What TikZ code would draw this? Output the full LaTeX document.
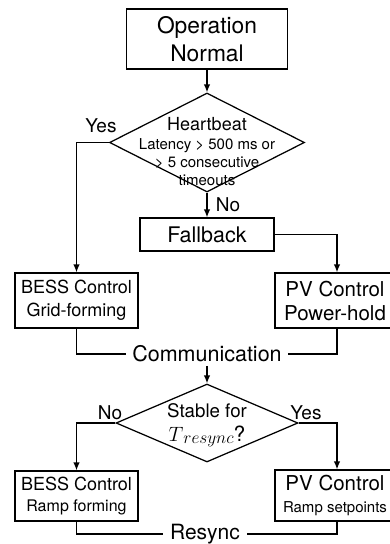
\documentclass[tikz,border=0pt]{standalone}
\usepackage{fontspec}
\setmainfont{TeX Gyre Heros}
\usetikzlibrary{shapes.geometric,arrows.meta}

\newcommand{\fsz}[2]{\fontsize{#1}{#2}\selectfont}

\begin{document}
\begin{tikzpicture}[x=1pt,y=-1pt,>={Latex[length=8pt,width=6.5pt]},line width=1.25pt,
  box/.style={draw,rectangle,inner sep=0pt,align=center},
  decision/.style={draw,diamond,inner sep=0pt},
  lbl/.style={inner sep=1pt,font=\fsz{19}{22}}]
  \clip (0,0) rectangle (390,544);

  % 正常运行与心跳判断
  \node[box,minimum width=161pt,minimum height=60pt,font=\fsz{22.8}{28}] (op) at (207,39) {Operation\\Normal};
  \node[decision,minimum width=195pt,minimum height=99pt] (hb) at (207,142.5) {};
  \node[align=center,inner sep=0pt,font=\fsz{15}{18}] (hbtext) at (207,152)
    {{\fsz{18}{20}Heartbeat}\\[1pt]Latency > 500 ms or\\> 5 consecutive\\timeouts};
  \draw[->] (op) -- (hb);
  \node[lbl] (yes1) at (101,126) {Yes};
  \node[lbl] (no1) at (228,205) {No};

  % 降级模式
  \node[box,minimum width=134pt,minimum height=33pt,font=\fsz{21.5}{24}] (fb) at (207,234.5) {Fallback};
  \draw[->] (hb) -- (fb);

  \node[box,minimum width=123pt,minimum height=55pt,font=\fsz{18}{23}] (bess1) at (76.5,300.5)
    {BESS Control\\Grid-forming};
  \node[box,minimum width=120pt,minimum height=55pt,font=\fsz{20.5}{24}] (pv1) at (335,300.5)
    {PV Control\\Power-hold};
  \draw[->] (hb.west) -| (bess1.north);
  \draw[->] (fb.east) -| ([xshift=2pt]pv1.north);

  % 通信恢复
  \node[inner xsep=6pt,inner ysep=3pt,font=\fsz{21.5}{24}] (comm) at (207,354) {Communication};
  \draw (bess1.south) |- (comm.west);
  \draw ([xshift=2pt]pv1.south) |- (comm.east);
  \node[decision,minimum width=182pt,minimum height=78pt] (st) at (207,423) {};
  \node[align=center,inner sep=0pt,font=\fsz{18.7}{24}] (sttext) at (207,425)
    {Stable for\\{\fsz{21}{24}$T$\raisebox{-2.5pt}{\fsz{17}{20}$resync$}?}};
  \draw[->] (comm) -- (st);
  \node[lbl] (no2) at (110,413) {No};
  \node[lbl] (yes2) at (306,413) {Yes};

  % 重新同步
  \node[box,minimum width=123pt,minimum height=50pt,font=\fsz{18}{21}] (bess2) at (76.5,496)
    {BESS Control\\{\fsz{16}{21}Ramp forming}};
  \node[box,minimum width=120pt,minimum height=51pt,font=\fsz{20.5}{22}] (pv2) at (335,495.5)
    {PV Control\\{\fsz{15}{22}Ramp setpoints}};
  \draw[->] (st.west) -| (bess2.north);
  \draw[->] (st.east) -| ([xshift=2pt]pv2.north);

  \node[inner xsep=6pt,inner ysep=2pt,font=\fsz{21}{24}] (rs) at (205,534) {Resync};
  \draw (bess2.south) |- (rs.west);
  \draw ([xshift=2pt]pv2.south) |- (rs.east);
\end{tikzpicture}
\end{document}
